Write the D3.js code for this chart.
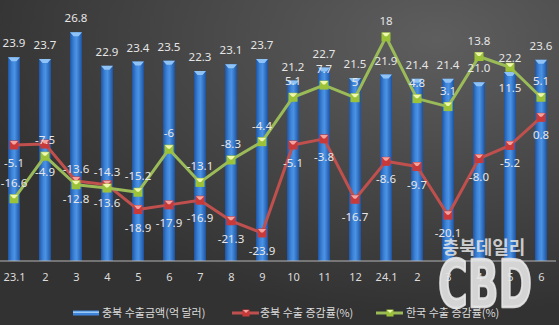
<!DOCTYPE html>
<html>
<head>
<meta charset="utf-8">
<script src="https://cdn.jsdelivr.net/npm/d3@7/dist/d3.min.js"></script>
<style>
  html, body { margin: 0; padding: 0; background: #3a3a3a; }
  svg { display: block; }
</style>
</head>
<body>
<svg id="chart" width="559" height="325"></svg>
<script>
// Month labels (2023.1 – 2024.6)
const months = ["23.1","2","3","4","5","6","7","8","9","10","11","12","24.1","2","3","4","5","6"];
// 충북 수출금액 (억 달러)
const exportAmount = ["23.9","23.7","26.8","22.9","23.4","23.5","22.3","23.1","23.7","21.2","22.7","21.5","21.9","21.4","21.4","21.0","22.2","23.6"];
// 충북 수출 증감률 (%)
const cbGrowth = ["-5.1","-4.9","-12.8","-13.6","-18.9","-17.9","-16.9","-21.3","-23.9","-5.1","-3.8","-16.7","-8.6","-9.7","-20.1","-8.0","-5.2","0.8"];
// 한국 수출 증감률 (%)
const krGrowth = ["-16.6","-7.5","-13.6","-14.3","-15.2","-6","-13.1","-8.3","-4.4","5.1","7.7","5","18","4.8","3.1","13.8","11.5","5.1"];
const seriesNames = ["충북 수출금액(억 달러)", "충북 수출 증감률(%)", "한국 수출 증감률(%)"];

const W = 559, H = 325;
const svg = d3.select("#chart");
const defs = svg.append("defs");

// background: dark grey, lighter toward the upper right
const bg = defs.append("radialGradient").attr("id", "bg")
  .attr("cx", 0.78).attr("cy", 0.12).attr("r", 0.85);
bg.append("stop").attr("offset", "0%").attr("stop-color", "#5e5e5e");
bg.append("stop").attr("offset", "100%").attr("stop-color", "#323232");
svg.append("rect").attr("width", W).attr("height", H).attr("fill", "url(#bg)");

// bar fill: rounded cylinder look
const bar = defs.append("linearGradient").attr("id", "barFill").attr("x1", 0).attr("x2", 1);
[["0%", "#1f56a6"], ["35%", "#3f86da"], ["55%", "#4a92e4"], ["100%", "#1d52a0"]]
  .forEach(([o, c]) => bar.append("stop").attr("offset", o).attr("stop-color", c));

const idx = d3.range(months.length);
const x = d3.scalePoint().domain(idx).range([14, 541]);
const yBar = d3.scaleLinear().domain([0, 30]).range([263.5, 4.6]);
const yRate = d3.scaleLinear().domain([-30, 25]).range([261.5, 4.1]);
const baseY = 261;
const barW = 12;

const numFont = "'Noto Sans', 'DejaVu Sans', sans-serif";
const krFont = "'Noto Sans CJK KR', 'Noto Sans', sans-serif";
const labelColor = "#e6e6e6";

// bars
const bars = svg.append("g");
bars.selectAll("rect").data(idx).join("rect")
  .attr("x", i => x(i) - barW / 2)
  .attr("y", i => yBar(+exportAmount[i]))
  .attr("width", barW)
  .attr("height", i => baseY - yBar(+exportAmount[i]))
  .attr("fill", "url(#barFill)");
// bevelled cap on each bar
bars.selectAll("path").data(idx).join("path")
  .attr("d", i => {
    const cx = x(i), t = yBar(+exportAmount[i]);
    return `M${cx - 6},${t}L${cx + 6},${t}L${cx + 2.5},${t + 4}L${cx - 2.5},${t + 4}Z`;
  })
  .attr("fill", "#8fc3f5");

// baseline
svg.append("line").attr("x1", 0).attr("x2", 556).attr("y1", baseY).attr("y2", baseY)
  .attr("stroke", "#b4b4b4").attr("stroke-width", 1);

// x axis labels
const xAxis = d3.axisBottom(x).tickSize(0).tickPadding(0).tickFormat(i => months[i]);
const gx = svg.append("g").attr("transform", `translate(0,${baseY + 10})`).call(xAxis);
gx.select(".domain").remove();
gx.selectAll("text").attr("fill", "#dcdcdc").attr("font-family", numFont)
  .attr("font-size", 11).attr("dy", "0.9em");

// rate lines
function drawLine(values, stroke, markFill, markLight) {
  const line = d3.line().x(i => x(i)).y(i => yRate(+values[i]));
  svg.append("path").datum(idx).attr("d", line)
    .attr("fill", "none").attr("stroke", stroke).attr("stroke-width", 3)
    .attr("stroke-linejoin", "round");
  const m = svg.append("g").selectAll("g").data(idx).join("g")
    .attr("transform", i => `translate(${x(i)},${yRate(+values[i])})`);
  m.append("rect").attr("x", -4.5).attr("y", -4.5).attr("width", 9).attr("height", 9)
    .attr("fill", markFill);
  m.append("path").attr("d", "M-4,-4L4,-4L1,-0.5L-1,-0.5Z").attr("fill", markLight);
}
drawLine(cbGrowth, "#c0504d", "#c8393a", "#f3a3a0");
drawLine(krGrowth, "#9bbb59", "#9cc23a", "#f0f8b0");

// value labels
function labels(values, yPos) {
  svg.append("g").selectAll("text").data(idx).join("text")
    .attr("x", i => x(i))
    .attr("y", i => yPos(i))
    .attr("dy", "0.35em")
    .attr("text-anchor", "middle")
    .attr("font-family", numFont).attr("font-size", 11.5)
    .attr("fill", labelColor)
    .text(i => values[i]);
}
labels(exportAmount, i => yBar(+exportAmount[i]) - 14);
const cbBelowExtra = new Set([1]);
labels(cbGrowth, i => yRate(+cbGrowth[i]) + (cbBelowExtra.has(i) ? 28 : 18));
const krBelow = new Set([16]);
labels(krGrowth, i => yRate(+krGrowth[i]) + (krBelow.has(i) ? 21 : -16));

// legend
const legY = 313;
const leg = svg.append("g");
// bar swatch
leg.append("rect").attr("x", 73).attr("y", legY - 2.5).attr("width", 26).attr("height", 5)
  .attr("fill", "#3f86da");
leg.append("rect").attr("x", 73).attr("y", legY - 1.5).attr("width", 26).attr("height", 1.5)
  .attr("fill", "#9ccaf6");
// line swatches
[[232, "#c0504d", "#c8393a", "#f3a3a0"], [376, "#9bbb59", "#9cc23a", "#f0f8b0"]]
  .forEach(([lx, s, f, l]) => {
    leg.append("line").attr("x1", lx).attr("x2", lx + 27).attr("y1", legY).attr("y2", legY)
      .attr("stroke", s).attr("stroke-width", 3);
    leg.append("rect").attr("x", lx + 10.5).attr("y", legY - 3.5).attr("width", 7).attr("height", 7)
      .attr("fill", f);
    leg.append("path").attr("d", `M${lx + 11},${legY - 3}L${lx + 17},${legY - 3}L${lx + 14},${legY}Z`)
      .attr("fill", l);
  });
[[102, seriesNames[0]], [260, seriesNames[1]], [406, seriesNames[2]]].forEach(([lx, t]) => {
  leg.append("text").attr("x", lx).attr("y", legY).attr("dy", "0.35em")
    .attr("font-family", krFont).attr("font-size", 11).attr("fill", "#dcdcdc").text(t);
});

// publisher mark
const mark = svg.append("g").attr("fill", "#e6e6e6");
mark.append("text").attr("x", 484).attr("y", 248).attr("dy", "0.35em")
  .attr("text-anchor", "middle").attr("font-family", krFont).attr("font-weight", 700)
  .attr("font-size", 18).attr("fill-opacity", 0.85).text("충북데일리");
mark.append("text").attr("x", 438).attr("y", 307)
  .attr("font-family", "'DejaVu Sans Condensed', 'DejaVu Sans', sans-serif").attr("font-weight", 700)
  .attr("font-size", 66).attr("textLength", 94).attr("lengthAdjust", "spacingAndGlyphs")
  .attr("stroke", "#e6e6e6").attr("stroke-width", 2.5).attr("stroke-linejoin", "round")
  .attr("fill-opacity", 0.9).attr("stroke-opacity", 0.9).text("CBD");
</script>
</body>
</html>
